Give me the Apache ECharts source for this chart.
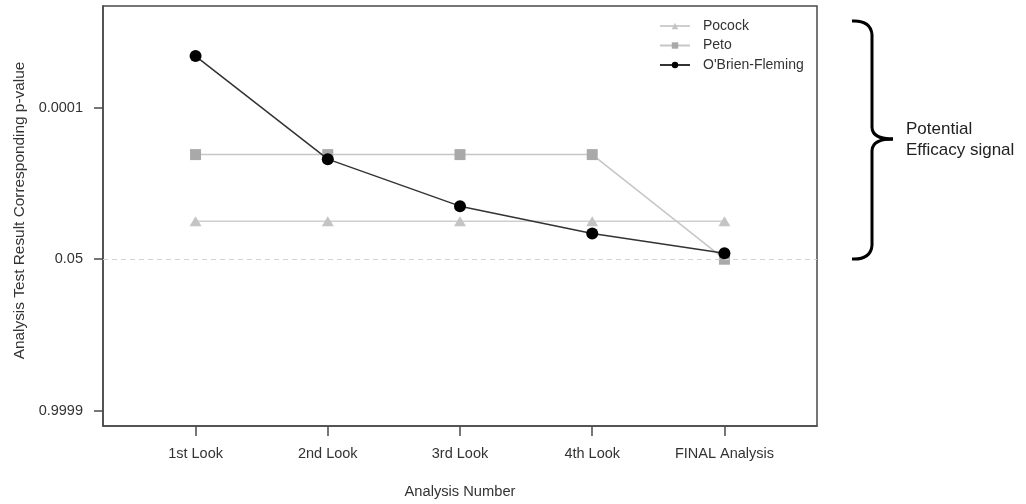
<!DOCTYPE html>
<html>
<head>
<meta charset="utf-8">
<script src="https://cdn.jsdelivr.net/npm/echarts@6/dist/echarts.min.js"></script>
<style>
html,body{margin:0;padding:0;background:#fff;}
#chart{width:1026px;height:504px;}
</style>
</head>
<body>
<div id="chart"></div>
<script>
// ---- data ----
const lookLabels = ['1st Look', '2nd Look', '3rd Look', '4th Look', 'FINAL Analysis'];
const lookPositions = [1, 2, 3, 4, 5];
const yTickPositions = [0, 1, 2];
const yTickLabels = ['0.9999', '0.05', '0.0001'];
const pocock = [1.25, 1.25, 1.25, 1.25, 1.25];
const peto = [1.69, 1.69, 1.69, 1.69, 1.0];
const obrienFleming = [2.34, 1.66, 1.35, 1.17, 1.04];
const thresholdLevel = 1; // 0.05 dashed reference line

const font = '"Liberation Sans", Arial, sans-serif';
const pairs = arr => arr.map((v, i) => [lookPositions[i], v]);

const braceStyle = { stroke: '#000', lineWidth: 3, fill: null };
const curve = (x1, y1, cx, cy, x2, y2) => ({ type: 'bezierCurve', shape: { x1, y1, x2, y2, cpx1: cx, cpy1: cy }, style: braceStyle });
const seg = (x1, y1, x2, y2) => ({ type: 'line', shape: { x1, y1, x2, y2 }, style: braceStyle });

const chart = echarts.init(document.getElementById('chart'));
chart.setOption({
  animation: false,
  backgroundColor: '#ffffff',
  grid: { left: 103, right: 209, top: 6, bottom: 76, show: true, borderColor: '#4a4a4a', borderWidth: 1.5, containLabel: false },
  legend: {
    orient: 'vertical', left: 654, top: 14, itemWidth: 30, itemHeight: 8, itemGap: 5.5,
    textStyle: { fontFamily: font, fontSize: 14, color: '#333', padding: [0, 0, 0, 8] },
    data: ['Pocock', 'Peto', "O'Brien-Fleming"]
  },
  xAxis: {
    type: 'value', min: 0.3, max: 5.7,
    splitLine: { show: false },
    axisLine: { show: true, onZero: false, lineStyle: { color: '#4a4a4a', width: 1.5 } },
    axisTick: { show: true, length: 10, customValues: lookPositions, lineStyle: { color: '#4a4a4a', width: 1.5 } },
    axisLabel: { customValues: lookPositions, margin: 20, fontFamily: font, fontSize: 14.5, color: '#333',
      formatter: v => lookLabels[lookPositions.indexOf(Math.round(v))] || '' },
    name: 'Analysis Number', nameLocation: 'middle', nameGap: 58,
    nameTextStyle: { fontFamily: font, fontSize: 14.7, color: '#333' }
  },
  yAxis: {
    type: 'value', min: -0.1, max: 2.67,
    splitLine: { show: false },
    axisLine: { show: true, onZero: false, lineStyle: { color: '#4a4a4a', width: 1.5 } },
    axisTick: { show: true, length: 9, customValues: yTickPositions, lineStyle: { color: '#4a4a4a', width: 1.5 } },
    axisLabel: { customValues: yTickPositions, margin: 20, fontFamily: font, fontSize: 14.5, color: '#333',
      formatter: v => yTickLabels[yTickPositions.indexOf(Math.round(v))] || '' },
    name: 'Analysis Test Result Corresponding p-value', nameLocation: 'middle', nameGap: 76,
    nameTextStyle: { fontFamily: font, fontSize: 15.4, color: '#333', padding: [0, 0, 0, 11] }
  },
  series: [
    {
      name: 'Pocock', type: 'line', data: pairs(pocock),
      symbol: 'triangle', symbolSize: [12, 10],
      itemStyle: { color: '#c4c4c4' },
      lineStyle: { color: '#cfcfcf', width: 1.5 },
      markLine: {
        silent: true, symbol: 'none', label: { show: false },
        lineStyle: { color: '#d2d2d2', type: [5, 4], width: 1.2 },
        data: [{ yAxis: thresholdLevel }]
      }
    },
    {
      name: 'Peto', type: 'line', data: pairs(peto),
      symbol: 'rect', symbolSize: 11,
      itemStyle: { color: '#a9a9a9' },
      lineStyle: { color: '#c6c6c6', width: 1.5 }
    },
    {
      name: "O'Brien-Fleming", type: 'line', data: pairs(obrienFleming),
      symbol: 'circle', symbolSize: 12,
      itemStyle: { color: '#000000' },
      lineStyle: { color: '#333333', width: 1.5 },
      z: 5
    }
  ],
  graphic: [
    curve(852, 21, 870, 20, 872, 34),
    seg(872, 34, 872, 128),
    curve(872, 128, 873, 139, 893, 139),
    curve(893, 139, 873, 139, 872, 150),
    seg(872, 150, 872, 246),
    curve(872, 246, 870, 260, 852, 259),
    {
      type: 'text', left: 906, top: 119,
      style: { text: 'Potential\nEfficacy signal', fontFamily: font, fontSize: 17, lineHeight: 21, fill: '#222' }
    }
  ]
});
</script>
</body>
</html>
